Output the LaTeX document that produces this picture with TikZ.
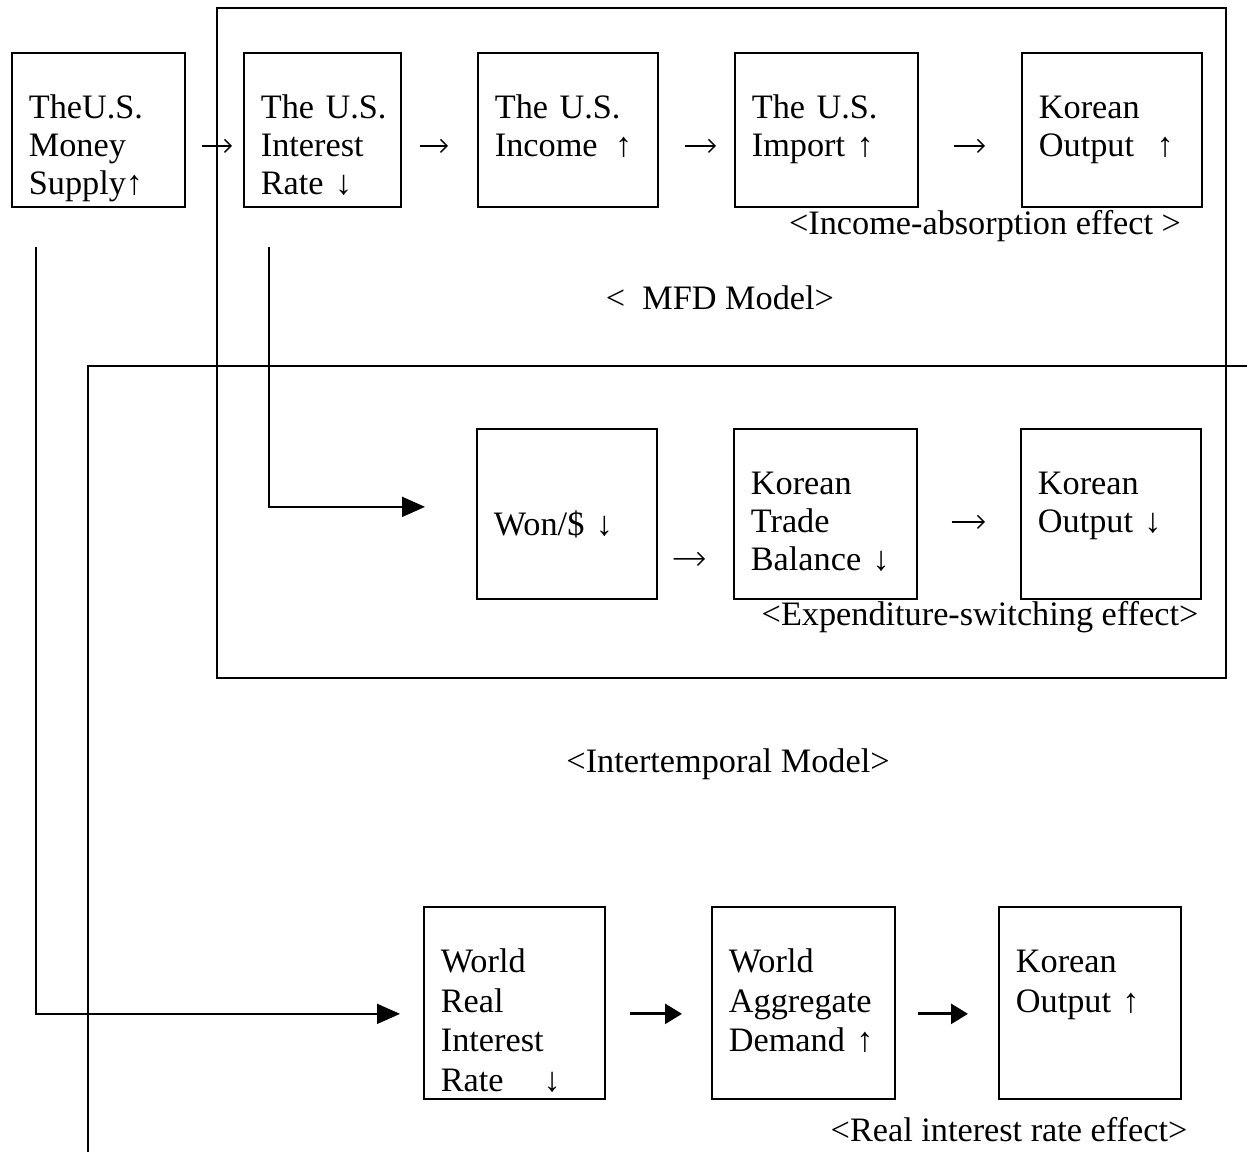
\documentclass[tikz,border=0pt]{standalone}
\usepackage{fontspec}
\setmainfont{Liberation Serif}
\usetikzlibrary{arrows.meta}

\begin{document}
\begin{tikzpicture}[
  x=0.02cm, y=-0.02cm,
  font=\fontsize{19.5}{21.5}\selectfont,
  stage/.style={draw, line width=1pt, anchor=north west, align=left, inner xsep=0.34cm, inner ysep=0pt, text height=1.32cm},
  toprow/.style={stage, text depth=1.76cm},
  midrow/.style={stage, text depth=2.08cm},
  lowrow/.style={stage, text depth=2.52cm, font=\fontsize{19.5}{22.5}\selectfont},
  tiny/.style={-{Straight Barb[length=1.3mm, width=2.6mm]}, line width=0.8pt},
  bold/.style={-{Triangle[length=0.34cm, width=0.4cm]}, line width=1.6pt},
  route/.style={-{Triangle[length=0.46cm, width=0.4cm]}, line width=1pt},
  frame/.style={line width=1pt},
  lbl/.style={inner sep=0pt}
]
  \useasboundingbox (0,0) rectangle (1247,1152);

  % model frames
  \draw[frame] (217,8) rectangle (1226,678);
  \draw[frame] (1247,366) -- (88,366) -- (88,1152);

  % top row
  \node[toprow, text width=2.78cm] (money)  at (11,52)   {TheU.S.\\Money\\Supply↑};
  \node[toprow, text width=2.46cm] (usint)  at (243,52)  {The~U.S.\\Interest\\Rate~↓};
  \node[toprow, text width=2.92cm] (income) at (477,52)  {The~U.S.\\Income\hspace{0.35cm}↑};
  \node[toprow, text width=2.98cm] (import) at (734,52)  {The~U.S.\\Import~↑};
  \node[toprow, text width=2.92cm] (korA)   at (1021,52) {Korean\\Output\hspace{0.45cm}↑};

  % middle row
  \node[midrow, text width=2.92cm, text height=2.14cm, text depth=1.26cm] (won) at (476,428) {Won/\$~↓};
  \node[midrow, text width=2.98cm] (trade) at (733,428)  {Korean\\Trade\\Balance~↓};
  \node[midrow, text width=2.92cm] (korB)  at (1020,428) {Korean\\Output~↓};

  % bottom row
  \node[lowrow, text width=2.94cm] (wrir) at (423,906) {World\\Real\\Interest\\Rate\hspace{0.8cm}↓};
  \node[lowrow, text width=2.98cm] (wad)  at (711,906) {World\\Aggregate\\Demand~↑};
  \node[lowrow, text width=2.96cm] (korC) at (998,906) {Korean\\Output~↑};

  % labels
  \node[lbl] (incfx)  at (985,226)  {<Income-absorption effect >};
  \node[lbl] (mfd)    at (720,298)  {<\ \ MFD Model>};
  \node[lbl] (expfx)  at (980,617)  {<Expenditure-switching effect>};
  \node[lbl] (inter)  at (728,764)  {<Intertemporal Model>};
  \node[lbl] (realfx) at (1009,1130) {<Real interest rate effect>};

  % short links
  \draw[tiny, shorten <=0.32cm, shorten >=0.22cm] ([yshift=-0.32cm]money.east) -- ([yshift=-0.32cm]usint.west);
  \draw[tiny, shorten <=0.36cm, shorten >=0.58cm] ([yshift=-0.32cm]usint.east) -- ([yshift=-0.32cm]income.west);
  \draw[tiny, shorten <=0.52cm, shorten >=0.36cm] ([yshift=-0.32cm]income.east) -- ([yshift=-0.32cm]import.west);
  \draw[tiny, shorten <=0.70cm, shorten >=0.72cm] ([yshift=-0.32cm]import.east) -- ([yshift=-0.32cm]korA.west);
  \draw[tiny, shorten <=0.32cm, shorten >=0.56cm] ([yshift=-0.9cm]won.east) -- ([yshift=-0.9cm]trade.west);
  \draw[tiny, shorten <=0.68cm, shorten >=0.70cm] ([yshift=-0.16cm]trade.east) -- ([yshift=-0.16cm]korB.west);
  \draw[bold, shorten <=0.48cm, shorten >=0.58cm] ([yshift=-0.22cm]wrir.east) -- ([yshift=-0.22cm]wad.west);
  \draw[bold, shorten <=0.44cm, shorten >=0.60cm] ([yshift=-0.22cm]wad.east) -- ([yshift=-0.22cm]korC.west);

  % long routes
  \draw[route, shorten >=1.02cm] ([xshift=0.52cm, yshift=-0.78cm]usint.south west) |- ([yshift=0.14cm]won.west);
  \draw[route, shorten >=0.46cm] ([xshift=0.5cm, yshift=-0.78cm]money.south west) |- ([yshift=-0.22cm]wrir.west);
\end{tikzpicture}
\end{document}
